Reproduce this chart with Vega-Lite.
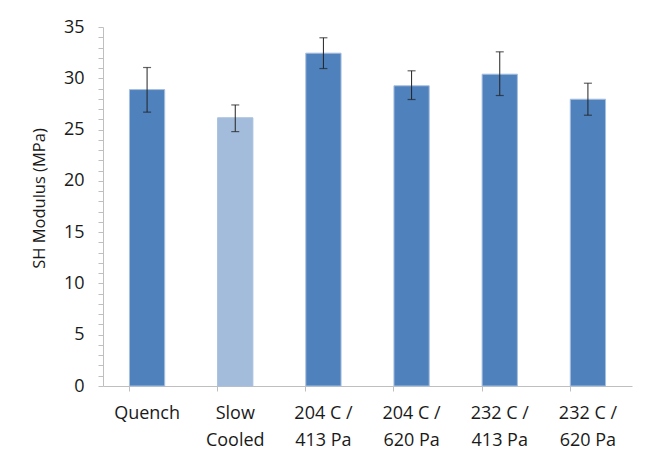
{
  "$schema": "https://vega.github.io/schema/vega-lite/v6.json",
  "autosize": "none",
  "width": 529,
  "height": 359,
  "padding": {"left": 103, "top": 27, "right": 14, "bottom": 73},
  "background": "white",
  "config": {"view": {"stroke": null}, "font": "Open Sans"},
  "data": {"values": [
    {"cond": "Quench", "label": "Quench", "mod": 28.9, "lo": 26.7, "hi": 31.05, "kind": "solid"},
    {"cond": "Slow Cooled", "label": "Slow|Cooled", "mod": 26.15, "lo": 24.8, "hi": 27.4, "kind": "hatched"},
    {"cond": "204 C / 413 Pa", "label": "204 C /|413 Pa", "mod": 32.45, "lo": 30.95, "hi": 33.95, "kind": "solid"},
    {"cond": "204 C / 620 Pa", "label": "204 C /|620 Pa", "mod": 29.27, "lo": 27.93, "hi": 30.73, "kind": "solid"},
    {"cond": "232 C / 413 Pa", "label": "232 C /|413 Pa", "mod": 30.4, "lo": 28.32, "hi": 32.58, "kind": "solid"},
    {"cond": "232 C / 620 Pa", "label": "232 C /|620 Pa", "mod": 27.96, "lo": 26.4, "hi": 29.52, "kind": "solid"}
  ]},
  "encoding": {
    "x": {
      "field": "label", "type": "nominal", "sort": null,
      "scale": {"paddingInner": 0.6, "paddingOuter": 0.3},
      "axis": {
        "title": null, "labelAngle": 0, "labelFontSize": 18, "labelColor": "#1a1a1a",
        "labelExpr": "split(datum.label, '|')", "labelLineHeight": 27,
        "labelPadding": 13, "bandPosition": 0, "tickSize": 5, "tickColor": "#bfbfbf",
        "domainColor": "#bfbfbf", "labelBaseline": "top", "labelOverlap": false
      }
    },
    "y": {
      "field": "mod", "type": "quantitative",
      "scale": {"domain": [0, 35], "nice": false},
      "axis": {
        "title": "SH Modulus (MPa)", "titleFontSize": 16.5, "titleFontWeight": "normal",
        "titleColor": "#1a1a1a", "titlePadding": 16, "titleY": 171,
        "values": [0,1,2,3,4,5,6,7,8,9,10,11,12,13,14,15,16,17,18,19,20,21,22,23,24,25,26,27,28,29,30,31,32,33,34,35],
        "labelExpr": "datum.value % 5 == 0 ? datum.label : ''",
        "labelFontSize": 18, "labelColor": "#1a1a1a", "labelPadding": 14, "labelOverlap": false,
        "tickSize": 5, "tickColor": "#bfbfbf", "domainColor": "#bfbfbf", "grid": false
      }
    }
  },
  "layer": [
    {
      "mark": {"type": "bar", "stroke": "#a7bfdf", "strokeWidth": 1},
      "encoding": {
        "color": {
          "field": "kind", "type": "nominal", "legend": null,
          "scale": {"domain": ["solid", "hatched"], "range": ["#4f81bd", "#a3bcdc"]}
        }
      }
    },
    {
      "mark": {"type": "rule", "color": "#222", "strokeWidth": 1},
      "encoding": {"y": {"field": "lo", "type": "quantitative"}, "y2": {"field": "hi"}}
    },
    {
      "mark": {"type": "tick", "color": "#222", "size": 8, "thickness": 1.2},
      "encoding": {"y": {"field": "lo", "type": "quantitative"}}
    },
    {
      "mark": {"type": "tick", "color": "#222", "size": 8, "thickness": 1.2},
      "encoding": {"y": {"field": "hi", "type": "quantitative"}}
    }
  ]
}
